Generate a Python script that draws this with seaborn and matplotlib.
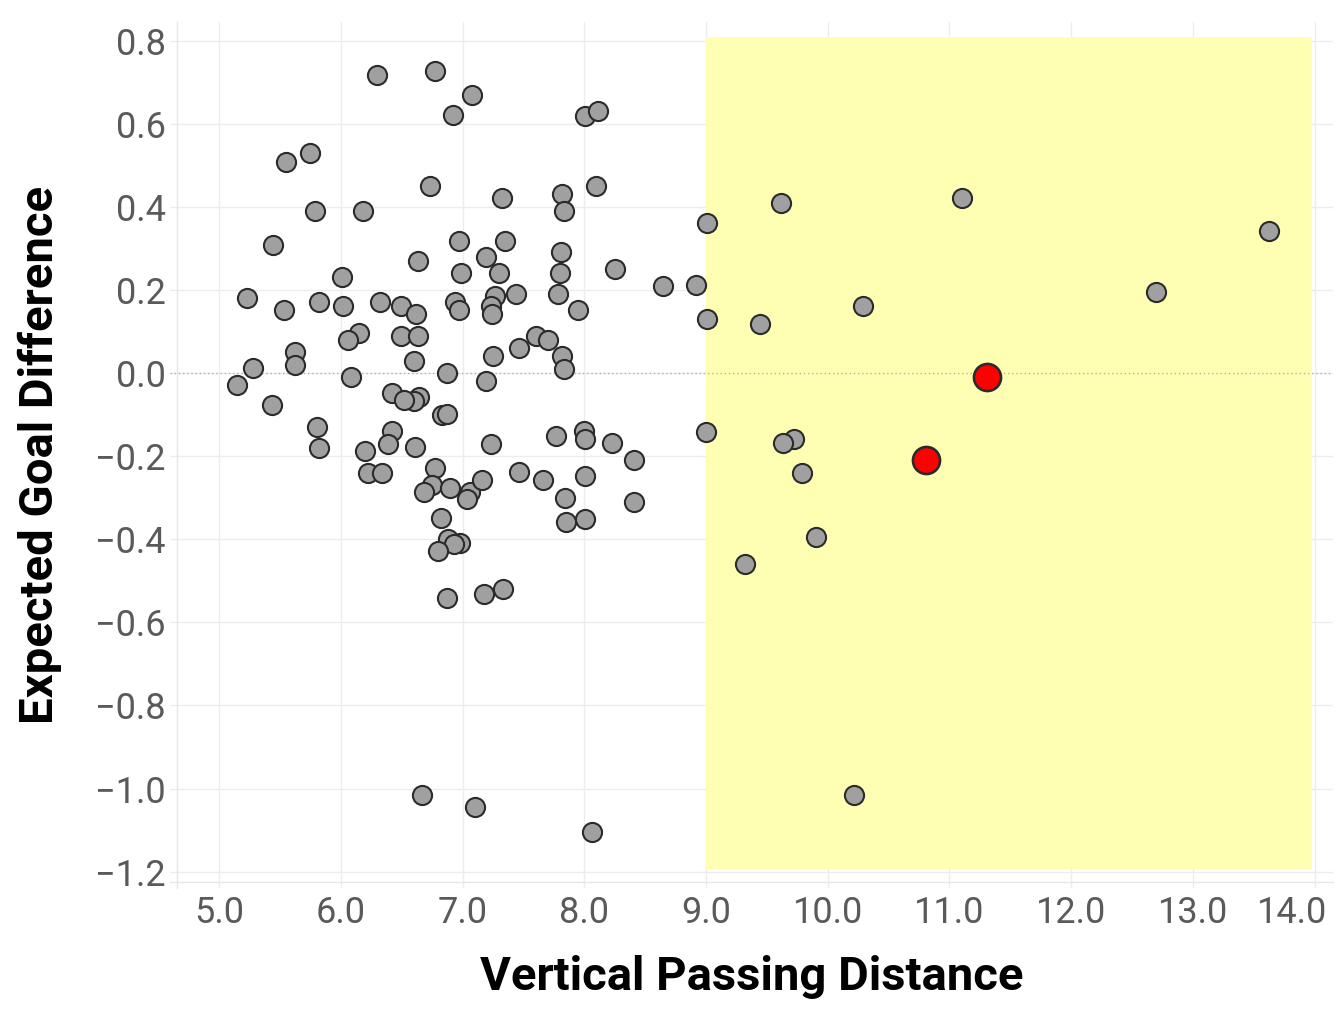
import matplotlib
matplotlib.use("Agg")
import matplotlib.pyplot as plt
import seaborn as sns
import pandas as pd

# ---- data ----
x_vals = [
    6.30, 6.77, 7.08, 6.92, 8.01, 8.11, 5.55, 5.75, 6.73, 8.10,
    5.79, 6.18, 7.32, 7.82, 7.83, 5.44, 6.97, 7.35, 6.63, 7.19,
    7.81, 6.01, 6.99, 7.30, 7.80, 8.25, 5.23, 7.78, 7.44, 7.27,
    5.82, 6.32, 6.94, 7.23, 5.53, 6.02, 6.49, 6.62, 6.97, 7.24,
    7.95, 8.65, 6.15, 6.06, 6.49, 6.63, 7.60, 7.70, 7.46, 7.25,
    7.82, 7.83, 5.62, 5.62, 5.28, 5.15, 6.08, 6.60, 6.87, 7.19,
    5.43, 6.42, 6.64, 6.60, 6.52, 6.83, 6.87, 5.80, 5.82, 6.20,
    6.42, 6.39, 6.61, 7.23, 6.22, 6.34, 7.77, 8.00, 8.01, 8.23,
    8.41, 6.77, 6.75, 6.68, 6.90, 7.06, 7.04, 7.16, 7.46, 7.66,
    8.01, 7.84, 8.41, 6.82, 8.01, 7.85, 6.88, 6.98, 6.93, 6.80,
    6.87, 7.18, 7.33, 9.62, 11.10, 9.01, 8.92, 9.01, 9.44, 10.29,
    9.00, 9.72, 9.63, 9.79, 9.90, 9.32, 12.70, 13.63, 10.22, 6.67,
    7.10, 8.06,
]
y_vals = [
    0.719, 0.728, 0.670, 0.621, 0.620, 0.631, 0.509, 0.530, 0.451, 0.451,
    0.391, 0.391, 0.421, 0.432, 0.391, 0.309, 0.319, 0.319, 0.270, 0.280,
    0.291, 0.231, 0.241, 0.241, 0.241, 0.250, 0.182, 0.191, 0.191, 0.186,
    0.171, 0.171, 0.172, 0.163, 0.153, 0.162, 0.163, 0.143, 0.152, 0.143,
    0.153, 0.211, 0.098, 0.080, 0.090, 0.090, 0.090, 0.080, 0.060, 0.041,
    0.042, 0.010, 0.051, 0.021, 0.012, -0.028, -0.008, 0.030, 0.001, -0.019,
    -0.077, -0.048, -0.057, -0.067, -0.065, -0.101, -0.099, -0.130, -0.179, -0.188,
    -0.138, -0.170, -0.178, -0.170, -0.240, -0.239, -0.150, -0.138, -0.159, -0.169,
    -0.208, -0.228, -0.268, -0.287, -0.276, -0.287, -0.303, -0.258, -0.238, -0.258,
    -0.247, -0.300, -0.310, -0.349, -0.350, -0.359, -0.399, -0.408, -0.411, -0.429,
    -0.540, -0.531, -0.520, 0.411, 0.423, 0.362, 0.212, 0.131, 0.118, 0.162,
    -0.141, -0.158, -0.169, -0.239, -0.395, -0.459, 0.196, 0.342, -1.016, -1.016,
    -1.045, -1.105,
]
highlight_x = [11.31, 10.81]
highlight_y = [-0.008, -0.208]

x_ticks = [5.0, 6.0, 7.0, 8.0, 9.0, 10.0, 11.0, 12.0, 13.0, 14.0]
y_ticks = [0.8, 0.6, 0.4, 0.2, 0.0, -0.2, -0.4, -0.6, -0.8, -1.0, -1.2]
zone_x = [9.0, 13.98]
zone_y = [-1.195, 0.81]

x_label = "Vertical Passing Distance"
y_label = "Expected Goal Difference"

df = pd.DataFrame({"x": x_vals, "y": y_vals})
hl = pd.DataFrame({"x": highlight_x, "y": highlight_y})

# ---- style ----
sns.set_theme(style="white")
plt.rcParams["font.family"] = ["Roboto", "DejaVu Sans"]
plt.rcParams["axes.unicode_minus"] = True

fig = plt.figure(figsize=(13.42, 10.11), dpi=100)
ax = fig.add_axes([170 / 1342, 1 - 888 / 1011, (1333 - 170) / 1342, (888 - 22) / 1011])

ylo, yhi = -1.2396, 0.846
ax.set_xlim(4.596, 14.152)
ax.set_ylim(ylo, yhi)

# highlight zone
ax.axvspan(zone_x[0], zone_x[1], ymin=(zone_y[0] - ylo) / (yhi - ylo),
           ymax=(zone_y[1] - ylo) / (yhi - ylo),
           color="#ffffb3", zorder=1, lw=0)

# grid
ax.set_xticks(x_ticks)
ax.set_yticks(y_ticks)
ax.grid(True, color="#ececec", linewidth=1.0, zorder=0)
ax.set_axisbelow(True)

# zero reference line
ax.axhline(0, color="#b0b0b0", linestyle=(0, (1, 2)), linewidth=1.0, zorder=2)

sns.scatterplot(data=df, x="x", y="y", ax=ax, s=190, color="#a0a0a0",
                edgecolor="#2b2b2b", linewidth=1.5, zorder=3, legend=False)
sns.scatterplot(data=hl, x="x", y="y", ax=ax, s=380, color="#ff0000",
                edgecolor="#2b2b2b", linewidth=1.9, zorder=4, legend=False)

# tick labels (the last x label is drawn shifted left to stay in the figure)
tick_color = "#5a5a5a"
x_labels = [f"{v:.1f}" for v in x_ticks]
ax.set_xticklabels(x_labels[:-1] + [""])
ax.set_yticklabels([f"{v:.1f}".replace("-", "\u2212") for v in y_ticks])
ax.tick_params(axis="both", length=0, labelsize=26, labelcolor=tick_color)
ax.tick_params(axis="x", pad=9)
ax.tick_params(axis="y", pad=8)
ax.annotate(x_labels[-1], xy=(x_ticks[-1], 0), xycoords=("data", "axes fraction"),
            xytext=(-16, -5), textcoords="offset points", ha="center", va="top",
            fontsize=26, color=tick_color)

ax.set_xlabel(x_label, fontsize=34, fontweight="bold", color="black", labelpad=17)
ax.set_ylabel(y_label, fontsize=34, fontweight="bold", color="black", labelpad=24)

# light axis lines slightly inside the panel
for side in ["top", "right"]:
    ax.spines[side].set_visible(False)
for side in ["left", "bottom"]:
    ax.spines[side].set_visible(True)
    ax.spines[side].set_color("#e6e6e6")
    ax.spines[side].set_linewidth(1.0)
ax.spines["left"].set_position(("outward", -5))
ax.spines["bottom"].set_position(("outward", -4))

fig.savefig("out.png", dpi=100, facecolor="white")
